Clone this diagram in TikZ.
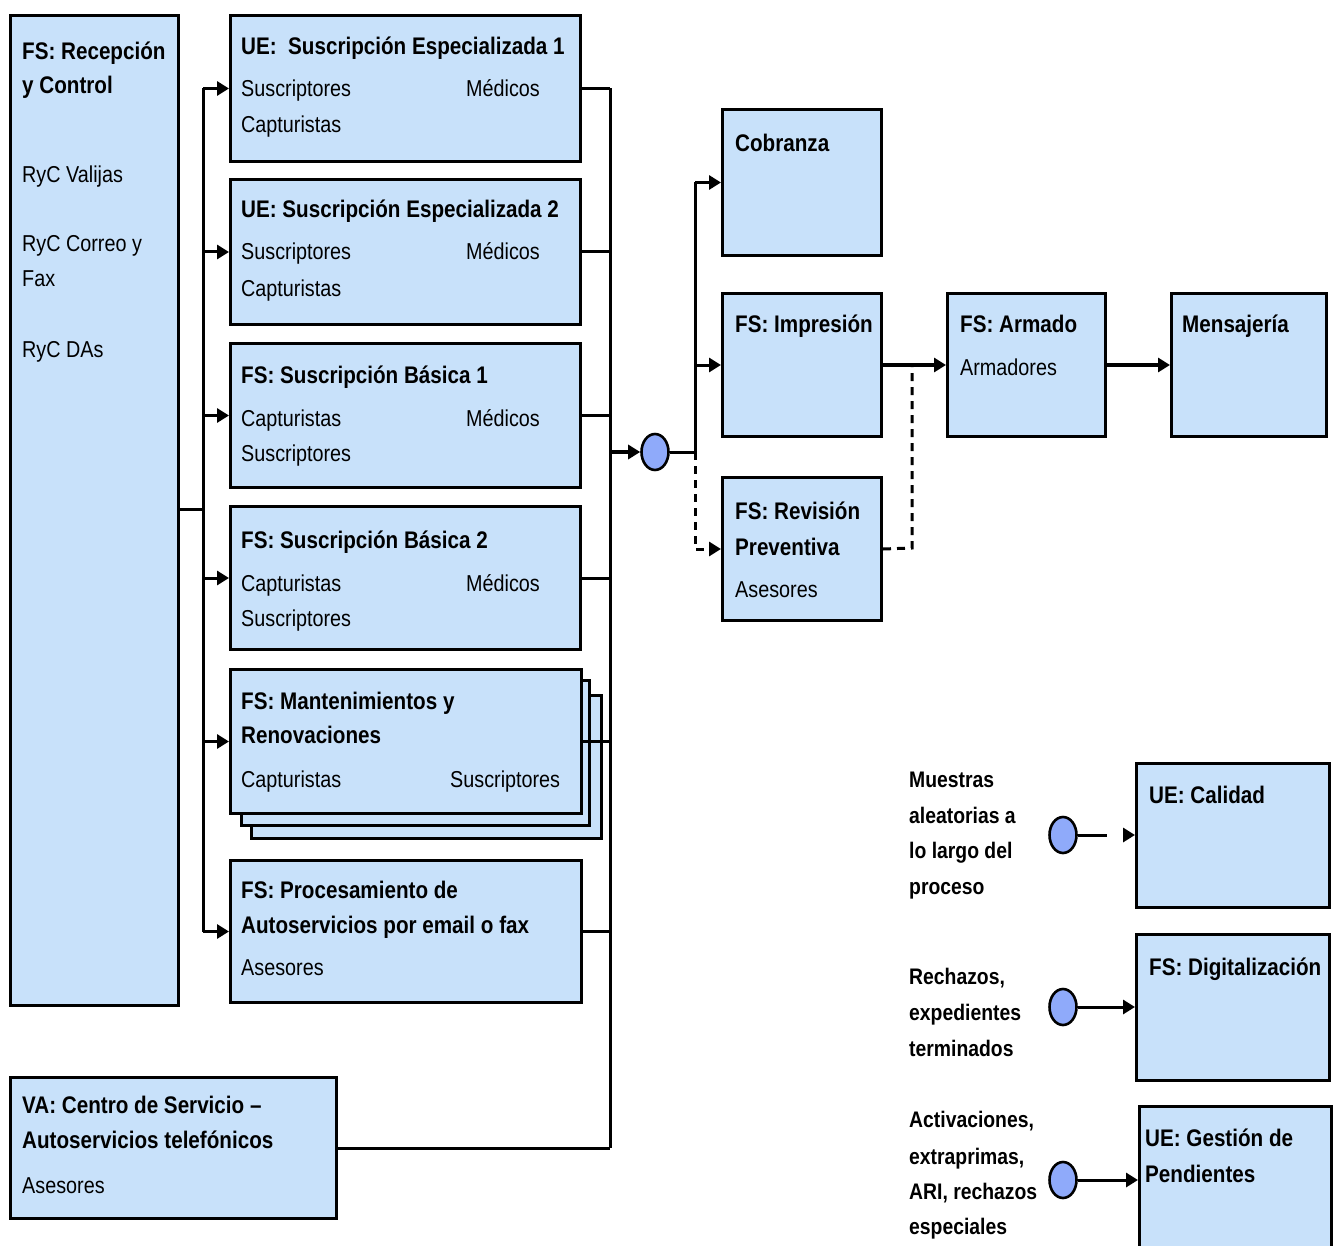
\documentclass[tikz,border=0pt]{standalone}
\usepackage{fontspec}
\setmainfont{Liberation Sans}[FakeStretch=0.86]
\usetikzlibrary{arrows.meta,shapes.geometric}
\definecolor{boxblue}{RGB}{200,225,250}
\definecolor{dotblue}{RGB}{143,170,250}
\begin{document}
\begin{tikzpicture}[x=1pt,y=-1pt,
  box/.style={draw=black, line width=3pt, fill=boxblue, inner sep=0pt, anchor=north west},
  ttl/.style={anchor=base west, inner sep=0pt, font=\fontsize{24}{30}\selectfont\bfseries},
  txt/.style={anchor=base west, inner sep=0pt, font=\fontsize{23}{30}\selectfont},
  lbl/.style={anchor=base west, inner sep=0pt, font=\fontsize{23}{30}\selectfont\bfseries},
  wire/.style={line width=3pt},
  thickwire/.style={line width=4.5pt},
  tip/.style={-{Triangle[length=12pt,width=14pt]}},
  dot/.style={ellipse, draw=black, line width=2.6pt, fill=dotblue, minimum width=27pt, minimum height=36pt, inner sep=0pt}
]
\useasboundingbox (0,0) rectangle (1337,1246);

% ---------- reception block ----------
\node[box, minimum width=168pt, minimum height=990pt] (recv) at (9,14) {};
\node[ttl] (recvT1) at (22,60) {FS: Recepción};
\node[ttl] (recvT2) at (22,94) {y Control};
\node[txt] (recvA) at (22,183) {RyC Valijas};
\node[txt] (recvB1) at (22,252) {RyC Correo y};
\node[txt] (recvB2) at (22,287) {Fax};
\node[txt] (recvC) at (22,357) {RyC DAs};

% ---------- processing units ----------
\node[box, minimum width=350pt, minimum height=146pt] (ue1) at (229,14) {};
\node[ttl] (ue1T) at (241,55) {UE:\ \ Suscripción Especializada 1};
\node[txt] (ue1a) at (241,97) {Suscriptores};
\node[txt] (ue1b) at (466,97) {Médicos};
\node[txt] (ue1c) at (241,133) {Capturistas};

\node[box, minimum width=350pt, minimum height=145pt] (ue2) at (229,178) {};
\node[ttl] (ue2T) at (241,218) {UE: Suscripción Especializada 2};
\node[txt] (ue2a) at (241,260) {Suscriptores};
\node[txt] (ue2b) at (466,260) {Médicos};
\node[txt] (ue2c) at (241,297) {Capturistas};

\node[box, minimum width=350pt, minimum height=144pt] (sb1) at (229,342) {};
\node[ttl] (sb1T) at (241,383) {FS: Suscripción Básica 1};
\node[txt] (sb1a) at (241,426) {Capturistas};
\node[txt] (sb1b) at (466,426) {Médicos};
\node[txt] (sb1c) at (241,461) {Suscriptores};

\node[box, minimum width=350pt, minimum height=143pt] (sb2) at (229,505) {};
\node[ttl] (sb2T) at (241,548) {FS: Suscripción Básica 2};
\node[txt] (sb2a) at (241,591) {Capturistas};
\node[txt] (sb2b) at (466,591) {Médicos};
\node[txt] (sb2c) at (241,626) {Suscriptores};

% stacked block
\node[box, minimum width=350pt, minimum height=143pt] (mnt3) at (250,694) {};
\node[box, minimum width=348pt, minimum height=145pt] (mnt2) at (240,679) {};
\node[box, minimum width=351pt, minimum height=144pt] (mnt) at (229,668) {};
\node[ttl] (mntT1) at (241,709) {FS: Mantenimientos y};
\node[ttl] (mntT2) at (241,743) {Renovaciones};
\node[txt] (mnta) at (241,787) {Capturistas};
\node[txt] (mntb) at (450,787) {Suscriptores};

\node[box, minimum width=351pt, minimum height=142pt] (proc) at (229,859) {};
\node[ttl] (procT1) at (241,898) {FS: Procesamiento de};
\node[ttl] (procT2) at (241,933) {Autoservicios por email o fax};
\node[txt] (proca) at (241,975) {Asesores};

\node[box, minimum width=326pt, minimum height=141pt] (va) at (9,1076) {};
\node[ttl] (vaT1) at (22,1113) {VA: Centro de Servicio –};
\node[ttl] (vaT2) at (22,1148) {Autoservicios telefónicos};
\node[txt] (vaa) at (22,1193) {Asesores};

% ---------- output stages ----------
\node[box, minimum width=159pt, minimum height=146pt] (cob) at (721,108) {};
\node[ttl] (cobT) at (735,152) {Cobranza};

\node[box, minimum width=159pt, minimum height=143pt] (imp) at (721,292) {};
\node[ttl] (impT) at (735,332) {FS: Impresión};

\node[box, minimum width=159pt, minimum height=143pt] (rev) at (721,476) {};
\node[ttl] (revT1) at (735,519) {FS: Revisión};
\node[ttl] (revT2) at (735,555) {Preventiva};
\node[txt] (reva) at (735,597) {Asesores};

\node[box, minimum width=158pt, minimum height=143pt] (arm) at (946,292) {};
\node[ttl] (armT) at (960,332) {FS: Armado};
\node[txt] (arma) at (960,375) {Armadores};

\node[box, minimum width=155pt, minimum height=143pt] (msj) at (1170,292) {};
\node[ttl] (msjT) at (1182,332) {Mensajería};

% ---------- support units ----------
\node[box, minimum width=193pt, minimum height=144pt] (cal) at (1135,762) {};
\node[ttl] (calT) at (1149,803) {UE: Calidad};

\node[box, minimum width=193pt, minimum height=146pt] (dig) at (1135,933) {};
\node[ttl] (digT) at (1149,975) {FS: Digitalización};

\node[box, minimum width=192pt, minimum height=160pt] (gst) at (1138,1105) {};
\node[ttl] (gstT1) at (1145,1146) {UE: Gestión de};
\node[ttl] (gstT2) at (1145,1182) {Pendientes};

% labels of the support flows
\begin{scope}[lbl/.append style={font=\fontsize{22.5}{30}\selectfont\bfseries}]
\node[lbl] (m1) at (909,787) {Muestras};
\node[lbl] (m2) at (909,823) {aleatorias a};
\node[lbl] (m3) at (909,858) {lo largo del};
\node[lbl] (m4) at (909,894) {proceso};
\node[lbl] (r1) at (909,984) {Rechazos,};
\node[lbl] (r2) at (909,1020) {expedientes};
\node[lbl] (r3) at (909,1056) {terminados};
\node[lbl] (a1) at (909,1127) {Activaciones,};
\node[lbl] (a2) at (909,1164) {extraprimas,};
\node[lbl] (a3) at (909,1199) {ARI, rechazos};
\node[lbl] (a4) at (909,1234) {especiales};
\end{scope}

% ---------- junction dots ----------
\node[dot] (jn) at (655,452) {};
\node[dot] (d1) at (1063,835) {};
\node[dot] (d2) at (1063,1007) {};
\node[dot] (d3) at (1063,1180) {};

% ---------- bus lines ----------
\coordinate (busL) at (203,0);
\coordinate (busR) at (610,0);
\coordinate (split) at (695,452);
\coordinate (merge) at (912,548);

\draw[wire] (recv.east |- 0,509) -- (busL |- 0,509);
\draw[wire] (busL |- ue1.west) -- (busL |- proc.west);
\foreach \n in {ue1,ue2,sb1,sb2,mnt,proc}
  \draw[wire, tip] (busL |- \n.west) -- (\n.west);

\foreach \n in {ue1,ue2,sb1,sb2,mnt,proc,va}
  \draw[wire] (\n.east) -- (busR |- \n.east);
\draw[wire] (busR |- ue1.east) -- (busR |- va.east);

\draw[thickwire, tip] (busR |- jn.west) -- (jn.west);
\draw[wire] (jn.east) -- (split);
\draw[wire] (split) -- (split |- cob.west);
\draw[wire, tip] (split |- cob.west) -- (cob.west);
\draw[wire, tip] (split |- imp.west) -- (imp.west);
\draw[wire, dash pattern=on 8pt off 6pt, tip] (split) -- (split |- rev.west) -- (rev.west);

\draw[thickwire, tip] (imp.east) -- (arm.west);
\draw[wire, dash pattern=on 8pt off 6pt] (rev.east) -- (merge) -- (merge |- imp.east);
\draw[thickwire, tip] (arm.east) -- (msj.west);

% support flows
\draw[wire, dash pattern=on 29pt off 40pt, tip] (d1.east) -- (d1 -| cal.west);
\draw[wire, tip] (d2.east) -- (d2 -| dig.west);
\draw[wire, tip] (d3.east) -- (d3 -| gst.west);
\end{tikzpicture}
\end{document}
